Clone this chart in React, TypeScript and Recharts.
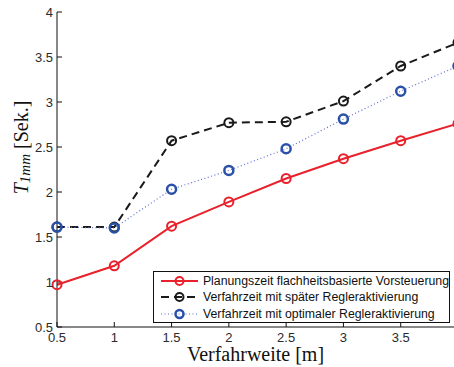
import React from 'react';
import { LineChart, Line, XAxis, YAxis, Label } from 'recharts';

const distances = [0.5, 1, 1.5, 2, 2.5, 3, 3.5, 4];
const planungszeit = [0.97, 1.18, 1.62, 1.89, 2.15, 2.37, 2.57, 2.76];
const spaet = [1.61, 1.61, 2.57, 2.77, 2.78, 3.01, 3.4, 3.66];
const optimal = [1.61, 1.6, 2.03, 2.24, 2.48, 2.81, 3.12, 3.4];
const xTicks = [0.5, 1, 1.5, 2, 2.5, 3, 3.5, 4];
const xTickLabels = ['0.5', '1', '1.5', '2', '2.5', '3', '3.5', ''];
const yTicks = [0.5, 1, 1.5, 2, 2.5, 3, 3.5, 4];
const seriesNames = [
  'Planungszeit flachheitsbasierte Vorsteuerung',
  'Verfahrzeit mit später Regleraktivierung',
  'Verfahrzeit mit optimaler Regleraktivierung',
];

const data = distances.map((d, i) => ({
  x: d,
  a: planungszeit[i],
  b: spaet[i],
  c: optimal[i],
}));

const styles = [
  { key: 'a', line: '#e8212b', dot: '#e8212b', width: 2, dash: undefined as string | undefined, dotW: 2 },
  { key: 'b', line: '#1a1a1a', dot: '#1a1a1a', width: 2, dash: '8 5', dotW: 2 },
  { key: 'c', line: '#5d6fd6', dot: '#2b50a8', width: 1.2, dash: '1 2.5', dotW: 2.5 },
];

const tickStyle = { fontFamily: 'Liberation Sans, Arial, sans-serif', fontSize: 13, fill: '#2a2a2a' };

const LegendBox = () => (
  <div
    style={{
      position: 'absolute',
      left: 153,
      top: 271,
      width: 297,
      height: 52,
      border: '1px solid #111',
      background: '#fff',
      boxSizing: 'border-box',
      padding: '1px 0 0 6px',
      fontFamily: 'Liberation Sans, Arial, sans-serif',
      fontSize: 12.3,
      color: '#111',
    }}
  >
    {styles.map((s, i) => (
      <div key={s.key} style={{ display: 'flex', alignItems: 'center', height: 16.3 }}>
        <svg width={40} height={14} style={{ marginRight: 3 }}>
          <line x1={1} y1={7} x2={38} y2={7} stroke={s.line} strokeWidth={s.width} strokeDasharray={s.dash} />
          <circle cx={19.5} cy={7} r={4} fill="none" stroke={s.dot} strokeWidth={s.dotW} />
        </svg>
        <span style={{ whiteSpace: 'nowrap' }}>{seriesNames[i]}</span>
      </div>
    ))}
  </div>
);

const YLabel = (props: any) => {
  const vb = props.viewBox || {};
  const cx = 23;
  const cy = (vb.y || 12) + (vb.height || 315) / 2 - 22;
  return (
    <text
      x={cx}
      y={cy}
      transform={`rotate(-90, ${cx}, ${cy})`}
      textAnchor="middle"
      dominantBaseline="middle"
      style={{ fontFamily: 'Liberation Serif, Times New Roman, serif', fontSize: 20, fill: '#111' }}
    >
      <tspan fontStyle="italic">T</tspan>
      <tspan fontStyle="italic" fontSize={15} dy={4}>1mm</tspan>
      <tspan dy={-4}> [Sek.]</tspan>
    </text>
  );
};

export default function App() {
  return (
    <div style={{ position: 'absolute', left: 0, top: 0, width: 454, height: 367, overflow: 'hidden', background: '#fff' }}>
      <LineChart width={462} height={367} data={data} margin={{ top: 12, right: 4, left: 0, bottom: 0 }}>
        <XAxis
          dataKey="x"
          type="number"
          domain={[0.5, 4]}
          ticks={xTicks}
          tickFormatter={(v: number) => xTickLabels[xTicks.indexOf(v)] ?? ''}
          height={40}
          tickSize={-5}
          tickMargin={11}
          tick={tickStyle}
          axisLine={{ stroke: '#111', strokeWidth: 1 }}
          tickLine={{ stroke: '#111', strokeWidth: 1 }}
          interval={0}
        >
          <Label
            value="Verfahrweite [m]"
            position="insideBottom"
            offset={6}
            dx={-2}
            style={{ fontFamily: 'Liberation Serif, Times New Roman, serif', fontSize: 20, fill: '#111' }}
          />
        </XAxis>
        <XAxis
          xAxisId="top"
          orientation="top"
          dataKey="x"
          type="number"
          domain={[0.5, 4]}
          ticks={xTicks}
          tickFormatter={() => ''}
          height={0}
          tickSize={-5}
          axisLine={{ stroke: '#111', strokeWidth: 1 }}
          tickLine={{ stroke: '#111', strokeWidth: 1 }}
          interval={0}
        />
        <YAxis
          type="number"
          domain={[0.5, 4]}
          ticks={yTicks}
          width={57}
          tickSize={-5}
          tickMargin={9}
          tick={tickStyle}
          axisLine={{ stroke: '#111', strokeWidth: 1 }}
          tickLine={{ stroke: '#111', strokeWidth: 1 }}
          interval={0}
          label={<YLabel />}
        />
        {styles.map((s, i) => (
          <Line
            key={s.key}
            dataKey={s.key}
            name={seriesNames[i]}
            type="linear"
            stroke={s.line}
            strokeWidth={s.width}
            strokeDasharray={s.dash}
            dot={{ r: 4.5, fill: 'none', stroke: s.dot, strokeWidth: s.dotW, strokeDasharray: '0' }}
            isAnimationActive={false}
          />
        ))}
      </LineChart>
      <LegendBox />
    </div>
  );
}
